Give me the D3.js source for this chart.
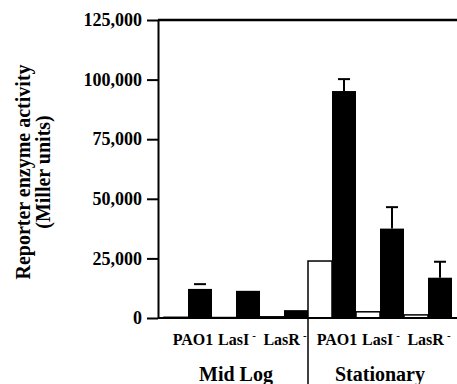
<!DOCTYPE html>
<html>
<head>
<meta charset="utf-8">
<script src="https://cdn.jsdelivr.net/npm/d3@7"></script>
<style>
    body { margin: 0; background: #fff; }
    svg text { font-family: "Liberation Serif", "Times New Roman", serif !important; font-weight: bold; fill: #000; }
</style>
</head>
<body>
<svg id="chart" width="457" height="384"></svg>
<script>
// values (Miller units)
const groups = ["Mid Log", "Stationary"];
const strains = ["PAO1", "LasI", "LasR"];
const strainMarks = ["", "-", "-"];
const whiteValues = [300, 200, 500, 23900, 2600, 1300];
const blackValues = [12200, 11400, 3300, 95200, 37500, 16900];
const blackErrors = [2000, 0, 0, 5000, 9000, 6700];
const yTicks = [0, 25000, 50000, 75000, 100000, 125000];

let cats = [];
groups.forEach((g, gi) => {
    strains.forEach((s, si) => {
        let i = gi * strains.length + si;
        cats.push({id: g + "|" + s, group: g, strain: s, mark: strainMarks[si],
            white: whiteValues[i], black: blackValues[i], err: blackErrors[i]});
    });
});

let svg = d3.select("#chart");

let yScale = d3.scaleLinear()
    .domain([0, 125000])
    .range([318, 20]);

let xScale = d3.scaleBand()
    .domain(cats.map(d => d.id))
    .range([164, 452])
    .padding(0);

let sub = d3.scaleBand()
    .domain(["white", "black"])
    .range([0, xScale.bandwidth()])
    .padding(0);

let axisX = 158;

//y axis
let yAxis = svg.append("g")
    .attr("transform", "translate(" + axisX + ",0)")
    .call(d3.axisLeft(yScale).tickValues(yTicks).tickSize(11).tickSizeOuter(0).tickPadding(5).tickFormat(d3.format(",")));

yAxis.select(".domain").attr("stroke-width", 2);
yAxis.selectAll(".tick line").attr("stroke-width", 2);
yAxis.selectAll(".tick text")
    .style("font-size", "18px");

//top line
svg.append("line")
    .attr("x1", axisX).attr("x2", 457)
    .attr("y1", yScale(125000)).attr("y2", yScale(125000))
    .attr("stroke", "#000").attr("stroke-width", 2.5);

//bars
let bars = svg.append("g");

bars.selectAll("rect.white")
    .data(cats)
    .enter().append("rect")
    .attr("class", "white")
    .attr("x", d => xScale(d.id) + sub("white"))
    .attr("width", sub.bandwidth())
    .attr("y", d => yScale(d.white))
    .attr("height", d => yScale(0) - yScale(d.white))
    .attr("fill", "#fff")
    .attr("stroke", "#000")
    .attr("stroke-width", 1.5);

bars.selectAll("rect.black")
    .data(cats)
    .enter().append("rect")
    .attr("class", "black")
    .attr("x", d => xScale(d.id) + sub("black"))
    .attr("width", sub.bandwidth())
    .attr("y", d => yScale(d.black))
    .attr("height", d => yScale(0) - yScale(d.black))
    .attr("fill", "#000");

//error bars (upper half only)
let errs = svg.append("g").selectAll("g")
    .data(cats.filter(d => d.err > 0))
    .enter().append("g")
    .attr("transform", d => "translate(" + (xScale(d.id) + sub("black") + sub.bandwidth() / 2) + ",0)");

errs.append("line")
    .attr("y1", d => yScale(d.black)).attr("y2", d => yScale(d.black + d.err))
    .attr("stroke", "#000").attr("stroke-width", d => d.err > 3000 ? 2 : 0);

errs.append("line")
    .attr("x1", -6).attr("x2", 6)
    .attr("y1", d => yScale(d.black + d.err)).attr("y2", d => yScale(d.black + d.err))
    .attr("stroke", "#000").attr("stroke-width", 2);

//baseline
svg.append("line")
    .attr("x1", axisX).attr("x2", 457)
    .attr("y1", yScale(0)).attr("y2", yScale(0))
    .attr("stroke", "#000").attr("stroke-width", 2);

//divider between the two phases
svg.append("line")
    .attr("x1", xScale(cats[3].id)).attr("x2", xScale(cats[3].id))
    .attr("y1", yScale(0)).attr("y2", 384)
    .attr("stroke", "#000").attr("stroke-width", 1.5);

//strain labels
let labels = svg.append("g").selectAll("text")
    .data(cats)
    .enter().append("text")
    .attr("x", d => xScale(d.id) + xScale.bandwidth() / 2 + (d.mark ? 1 : 5))
    .attr("y", 345)
    .attr("text-anchor", "middle")
    .style("font-size", "16px");

labels.append("tspan").text(d => d.strain);
labels.filter(d => d.mark).append("tspan")
    .attr("dx", 3)
    .attr("dy", -6)
    .style("font-size", "11px")
    .text(d => d.mark);

//phase labels
svg.append("g").selectAll("text")
    .data(groups)
    .enter().append("text")
    .attr("x", g => {
        let ids = cats.filter(d => d.group === g).map(d => d.id);
        return (xScale(ids[0]) + xScale(ids[ids.length - 1]) + xScale.bandwidth()) / 2;
    })
    .attr("y", 381)
    .attr("text-anchor", "middle")
    .style("font-size", "20px")
    .text(d => d);

//y title
let yTitle = svg.append("text")
    .attr("transform", "translate(30,172) rotate(-90)")
    .attr("text-anchor", "middle")
    .style("font-size", "20px");

yTitle.append("tspan").attr("x", 0).attr("dy", 0).text("Reporter enzyme activity");
yTitle.append("tspan").attr("x", 0).attr("dy", 20).text("(Miller units)");
</script>
</body>
</html>
